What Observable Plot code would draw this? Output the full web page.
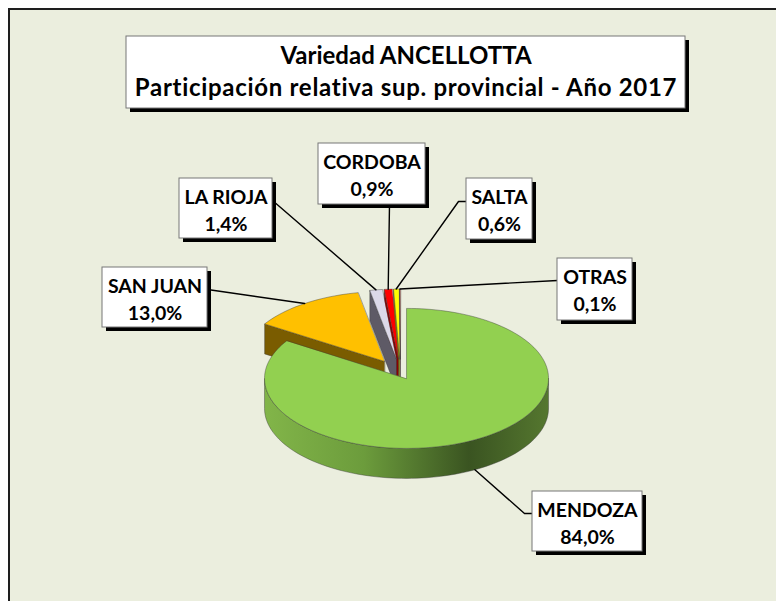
<!DOCTYPE html>
<html>
<head>
<meta charset="utf-8">
<script src="https://cdn.jsdelivr.net/npm/d3@7"></script>
<script src="https://cdn.jsdelivr.net/npm/@observablehq/plot@0.6"></script>
<style>
  html, body { margin: 0; padding: 0; background: #ffffff; overflow: hidden; }
  #area { position: absolute; left: 8px; top: 8px; width: 770px; height: 595px;
          background: #EBEEDE; border-top: 2px solid #1e1e1e; border-left: 2px solid #1e1e1e; }
  #chart { position: absolute; left: 0; top: 0; }
</style>
</head>
<body>
<div id="area"></div>
<div id="chart"></div>
<script>
// ---- data ----
const provincias = ["MENDOZA", "SAN JUAN", "LA RIOJA", "CORDOBA", "SALTA", "OTRAS"];
const porcentajes = [84.0, 13.0, 1.4, 0.9, 0.6, 0.1];
const tituloLineas = ["Variedad ANCELLOTTA", "Participación relativa sup. provincial - Año 2017"];

// ---- styles ----
const colorTapa = ["#92D050", "#FFC000", "#DCD9E9", "#FF0000", "#FFFF00", "#C0504D"];
const colorLado = ["url(#gradLado)", "#7A5C00", "#5E5A66", "#8E0000", "#9A9A00", "#7A2E2C"];
const explosion = [0.088, 0.2, 0.2, 0.2, 0.2, 0.2];

// ---- layout ----
const W = 776, H = 601;
const CX = 400, CY = 372.5, RX = 142, RY = 70, DEPTH = 30;
const cajas = [
  {x1: 532, y1: 491, x2: 642, y2: 551, guia: [[532, 513], [524, 513]]},
  {x1: 102, y1: 267, x2: 207, y2: 327, guia: [[207, 289]]},
  {x1: 179, y1: 178, x2: 272, y2: 238, guia: [[272, 200]]},
  {x1: 318, y1: 143, x2: 425, y2: 204, guia: [[389, 204]]},
  {x1: 466, y1: 178, x2: 532, y2: 239, guia: [[466, 201], [458, 201]]},
  {x1: 557, y1: 258, x2: 632, y2: 320, guia: [[557, 280]]}
];
const cajaTitulo = {x1: 126, y1: 36, x2: 685, y2: 108};
const SOMBRA = 4;
const FONT = "Lato, 'Open Sans', sans-serif";

// ---- geometry from data ----
const arcs = d3.pie().sort(null).value(d => d)(porcentajes);

function pt(ox, oy, a, dz = 0) {
  return {x: ox + RX * Math.sin(a), y: oy - RY * Math.cos(a) + dz};
}
function arcPts(ox, oy, a0, a1, dz = 0) {
  const n = Math.max(2, Math.ceil((a1 - a0) / (Math.PI / 90)));
  return d3.range(n + 1).map(i => pt(ox, oy, a0 + (a1 - a0) * i / n, dz));
}

const slices = arcs.map((arc, i) => {
  const a0 = arc.startAngle, a1 = arc.endAngle, mid = (a0 + a1) / 2;
  const ox = CX + explosion[i] * RX * Math.sin(mid);
  const oy = CY - explosion[i] * RY * Math.cos(mid);
  const faces = [];
  const radial = (a) => [
    {x: ox, y: oy}, pt(ox, oy, a), pt(ox, oy, a, DEPTH), {x: ox, y: oy + DEPTH}
  ];
  if (Math.sin(a0) < -1e-6) faces.push({pts: radial(a0), fill: i === 0 ? "#557733" : colorLado[i]});
  if (Math.sin(a1) > 1e-6) faces.push({pts: radial(a1), fill: i === 0 ? "#557733" : colorLado[i]});
  const f0 = Math.max(a0, Math.PI / 2), f1 = Math.min(a1, 3 * Math.PI / 2);
  if (f1 > f0) {
    faces.push({pts: [...arcPts(ox, oy, f0, f1), ...arcPts(ox, oy, f0, f1, DEPTH).reverse()], fill: colorLado[i]});
  }
  faces.push({pts: [{x: ox, y: oy}, ...arcPts(ox, oy, a0, a1)], fill: colorTapa[i]});
  const frente = Math.cos(mid) < 0;
  const ancla = pt(ox, oy, mid, frente ? DEPTH : 0);
  return {i, faces, ancla};
});

const orden = [5, 4, 3, 2, 1, 0];

const marks = [];
for (const k of orden) {
  for (const f of slices[k].faces) {
    marks.push(Plot.line(f.pts, {
      x: "x", y: "y", curve: "linear-closed",
      fill: f.fill, stroke: "#3a3a3a", strokeWidth: 0.6, strokeOpacity: 0.7
    }));
  }
}

// leader lines
const guias = [];
slices.forEach((s, i) => {
  const pts = cajas[i].guia.map(([x, y]) => ({x, y, g: i}));
  pts.push({x: s.ancla.x, y: s.ancla.y, g: i});
  guias.push(...pts);
});
marks.push(Plot.line(guias, {x: "x", y: "y", z: "g", stroke: "#000", strokeWidth: 1.4}));

// label boxes
const etiquetas = provincias.map((p, i) => ({
  ...cajas[i], nombre: p, valor: porcentajes[i].toFixed(1).replace(".", ",") + "%",
  cx: (cajas[i].x1 + cajas[i].x2) / 2
}));
marks.push(Plot.rect(etiquetas, {
  x1: d => d.x1 + SOMBRA, x2: d => d.x2 + SOMBRA, y1: d => d.y1 + SOMBRA, y2: d => d.y2 + SOMBRA, fill: "#000"
}));
marks.push(Plot.rect(etiquetas, {x1: "x1", x2: "x2", y1: "y1", y2: "y2", fill: "#fff", stroke: "#777", strokeWidth: 1}));
marks.push(Plot.text(etiquetas, {
  x: "cx", y: d => d.y1 + 25, text: "nombre", lineAnchor: "bottom",
  fontSize: 19.5, fontWeight: "bold", fontFamily: FONT, fill: "#000"
}));
marks.push(Plot.text(etiquetas, {
  x: "cx", y: d => d.y1 + 52, text: "valor", lineAnchor: "bottom",
  fontSize: 19.5, fontWeight: "bold", fontFamily: FONT, fill: "#000"
}));

// title box
marks.push(Plot.rect([cajaTitulo], {
  x1: d => d.x1 + SOMBRA, x2: d => d.x2 + SOMBRA, y1: d => d.y1 + SOMBRA, y2: d => d.y2 + SOMBRA, fill: "#000"
}));
marks.push(Plot.rect([cajaTitulo], {x1: "x1", x2: "x2", y1: "y1", y2: "y2", fill: "#fff", stroke: "#777", strokeWidth: 1}));
marks.push(Plot.text(tituloLineas, {
  x: (cajaTitulo.x1 + cajaTitulo.x2) / 2,
  y: (d, i) => cajaTitulo.y1 + 27 + i * 32,
  text: d => d, lineAnchor: "bottom",
  fontSize: 24, fontWeight: "bold", fontFamily: FONT, fill: "#000"
}));

const svg = Plot.plot({
  width: W, height: H,
  marginTop: 0, marginRight: 0, marginBottom: 0, marginLeft: 0,
  x: {domain: [0, W], range: [0, W], axis: null},
  y: {domain: [0, H], range: [0, H], axis: null},
  style: {background: "transparent", overflow: "visible"},
  marks
});

d3.select(svg).insert("defs", ":first-child").html(`
  <linearGradient id="gradLado" x1="0" x2="1" y1="0" y2="0">
    <stop offset="0" stop-color="#82B549"/>
    <stop offset="0.35" stop-color="#6C9C3C"/>
    <stop offset="0.72" stop-color="#3A5421"/>
    <stop offset="1" stop-color="#55772F"/>
  </linearGradient>`);

// widen the second title line slightly to match the reference width
d3.select(svg).selectAll("text")
  .filter(function () { return this.textContent === tituloLineas[1]; })
  .attr("letter-spacing", "0.7px");

document.getElementById("chart").appendChild(svg);
</script>
</body>
</html>
